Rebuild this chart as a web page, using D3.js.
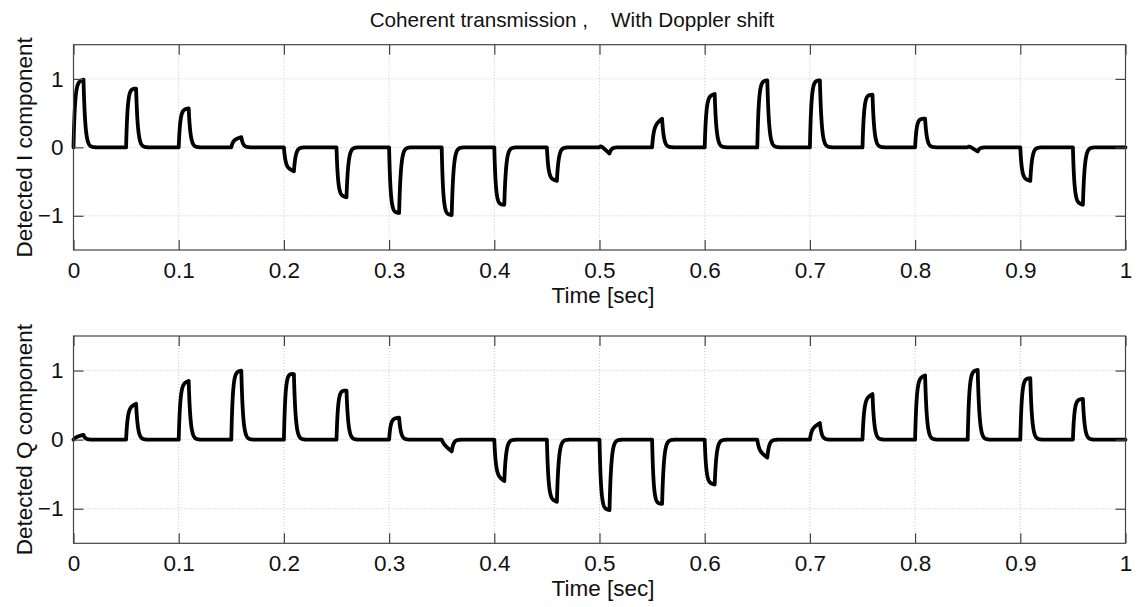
<!DOCTYPE html>
<html>
<head>
<meta charset="utf-8">
<script src="https://cdn.jsdelivr.net/npm/d3@7"></script>
<style>
  body { margin: 0; background: #fff; }
  svg { display: block; font-family: "Liberation Sans", Arial, sans-serif; }
</style>
</head>
<body>
<svg id="chart" width="1144" height="607"></svg>
<script>
// Pulse start times [sec]
const pulseTimes = [0.00, 0.05, 0.10, 0.15, 0.20, 0.25, 0.30, 0.35, 0.40, 0.45,
                    0.50, 0.55, 0.60, 0.65, 0.70, 0.75, 0.80, 0.85, 0.90, 0.95];

// Detected I component: level at the start and at the end of each pulse
const iStart = [0.95, 0.86, 0.55, 0.10, -0.28, -0.70, -0.95, -0.98, -0.84, -0.45,
                0.04, 0.30, 0.74, 0.97, 0.98, 0.77, 0.42, 0.03, -0.45, -0.80];
const iEnd   = [0.99, 0.86, 0.57, 0.15, -0.35, -0.73, -0.96, -0.99, -0.84, -0.49,
                -0.09, 0.42, 0.78, 0.98, 0.98, 0.77, 0.42, -0.06, -0.49, -0.84];

// Detected Q component: level at the start and at the end of each pulse
const qStart = [0.03, 0.45, 0.80, 0.98, 0.97, 0.72, 0.30, -0.05, -0.50, -0.85,
                -1.00, -0.93, -0.62, -0.15, 0.15, 0.58, 0.88, 0.99, 0.89, 0.58];
const qEnd   = [0.07, 0.52, 0.85, 1.00, 0.95, 0.71, 0.32, -0.17, -0.60, -0.90,
                -1.02, -0.93, -0.65, -0.26, 0.24, 0.66, 0.93, 1.01, 0.89, 0.59];

const xTicks = [0, 0.1, 0.2, 0.3, 0.4, 0.5, 0.6, 0.7, 0.8, 0.9, 1];
const yTicks = [-1, 0, 1];

const titleText = "Coherent transmission ,    With Doppler shift";
const xLabel = "Time [sec]";
const yLabels = ["Detected I component", "Detected Q component"];

// Receiver filter: pulse width and rise / fall time constants [sec]
const pulseWidth = 0.0095;
const tauRise = 0.0014;
const tauFall = 0.0017;
const dt = 0.0001;

// Build the filtered pulse train for one channel
function buildTrace(starts, ends) {
  const pts = [];
  const n = Math.round(1 / dt);
  for (let s = 0; s <= n; s++) {
    const t = s * dt;
    let k = Math.floor((t + 1e-9) / 0.05);
    k = Math.min(k, pulseTimes.length - 1);
    const t0 = pulseTimes[k];
    const u = t - t0;
    let v;
    if (u < pulseWidth) {
      const f = u / pulseWidth;
      const amp = starts[k] + (ends[k] - starts[k]) * f;
      v = amp * (1 - Math.exp(-u / tauRise));
    } else {
      const peak = ends[k] * (1 - Math.exp(-pulseWidth / tauRise));
      v = peak * Math.exp(-(u - pulseWidth) / tauFall);
    }
    pts.push([t, v]);
  }
  return pts;
}

const svg = d3.select("#chart");
const left = 73.5, right = 1125.5;
const panels = [
  { top: 44.7, bottom: 250, data: buildTrace(iStart, iEnd), ylab: yLabels[0] },
  { top: 336, bottom: 543.3, data: buildTrace(qStart, qEnd), ylab: yLabels[1] }
];

const x = d3.scaleLinear().domain([0, 1]).range([left, right]);
const fontSize = 22.5;
const tickLen = 10;

svg.append("text")
  .attr("x", 572)
  .attr("y", 27)
  .attr("text-anchor", "middle")
  .attr("font-size", 20.7)
  .attr("fill", "#111")
  .attr("xml:space", "preserve")
  .style("white-space", "pre")
  .text(titleText);

panels.forEach(p => {
  const y = d3.scaleLinear().domain([-1.5, 1.5]).range([p.bottom, p.top]);
  const h = p.bottom - p.top;
  const g = svg.append("g");

  // grid
  const grid = g.append("g").attr("class", "grid");
  grid.selectAll("line.gx").data(xTicks.slice(1, -1)).join("line")
    .attr("x1", d => x(d)).attr("x2", d => x(d))
    .attr("y1", p.top).attr("y2", p.bottom)
    .attr("stroke", "#c8c8c8").attr("stroke-width", 1)
    .attr("stroke-dasharray", "1,2");
  grid.selectAll("line.gy").data(yTicks).join("line")
    .attr("x1", left).attr("x2", right)
    .attr("y1", d => y(d)).attr("y2", d => y(d))
    .attr("stroke", "#c8c8c8").attr("stroke-width", 1)
    .attr("stroke-dasharray", "1,2");

  // signal
  const line = d3.line().x(d => x(d[0])).y(d => y(d[1]));
  g.append("path")
    .datum(p.data)
    .attr("d", line)
    .attr("fill", "none")
    .attr("stroke", "#000")
    .attr("stroke-width", 3.8)
    .attr("stroke-linejoin", "round")
    .attr("stroke-linecap", "round");

  // axes with inward ticks on all four sides
  const styleAxis = sel => {
    sel.select(".domain").remove();
    sel.selectAll(".tick line").attr("stroke", "#444").attr("stroke-width", 1.2);
    sel.selectAll(".tick text").attr("fill", "#111").attr("font-size", fontSize)
      .attr("font-family", "Liberation Sans, Arial, sans-serif");
  };
  g.append("g").attr("transform", `translate(0,${p.bottom})`)
    .call(d3.axisBottom(x).tickValues(xTicks).tickFormat(d3.format("~g"))
      .tickSize(-tickLen).tickPadding(12))
    .call(styleAxis);
  g.append("g").attr("transform", `translate(0,${p.top})`)
    .call(d3.axisTop(x).tickValues(xTicks).tickFormat("").tickSize(-tickLen))
    .call(styleAxis);
  g.append("g").attr("transform", `translate(${left},0)`)
    .call(d3.axisLeft(y).tickValues(yTicks).tickFormat(d3.format("~g"))
      .tickSize(-tickLen).tickPadding(10))
    .call(styleAxis);
  g.append("g").attr("transform", `translate(${right},0)`)
    .call(d3.axisRight(y).tickValues(yTicks).tickFormat("").tickSize(-tickLen))
    .call(styleAxis);

  // box
  g.append("rect")
    .attr("x", left).attr("y", p.top)
    .attr("width", right - left).attr("height", h)
    .attr("fill", "none").attr("stroke", "#444").attr("stroke-width", 1.2);

  // labels
  svg.append("text")
    .attr("x", 603)
    .attr("y", p.bottom + 53)
    .attr("text-anchor", "middle")
    .attr("font-size", fontSize)
    .attr("fill", "#111")
    .text(xLabel);
  svg.append("text")
    .attr("transform", `translate(32,${(p.top + p.bottom) / 2}) rotate(-90)`)
    .attr("text-anchor", "middle")
    .attr("font-size", fontSize)
    .attr("fill", "#111")
    .text(p.ylab);
});
</script>
</body>
</html>
